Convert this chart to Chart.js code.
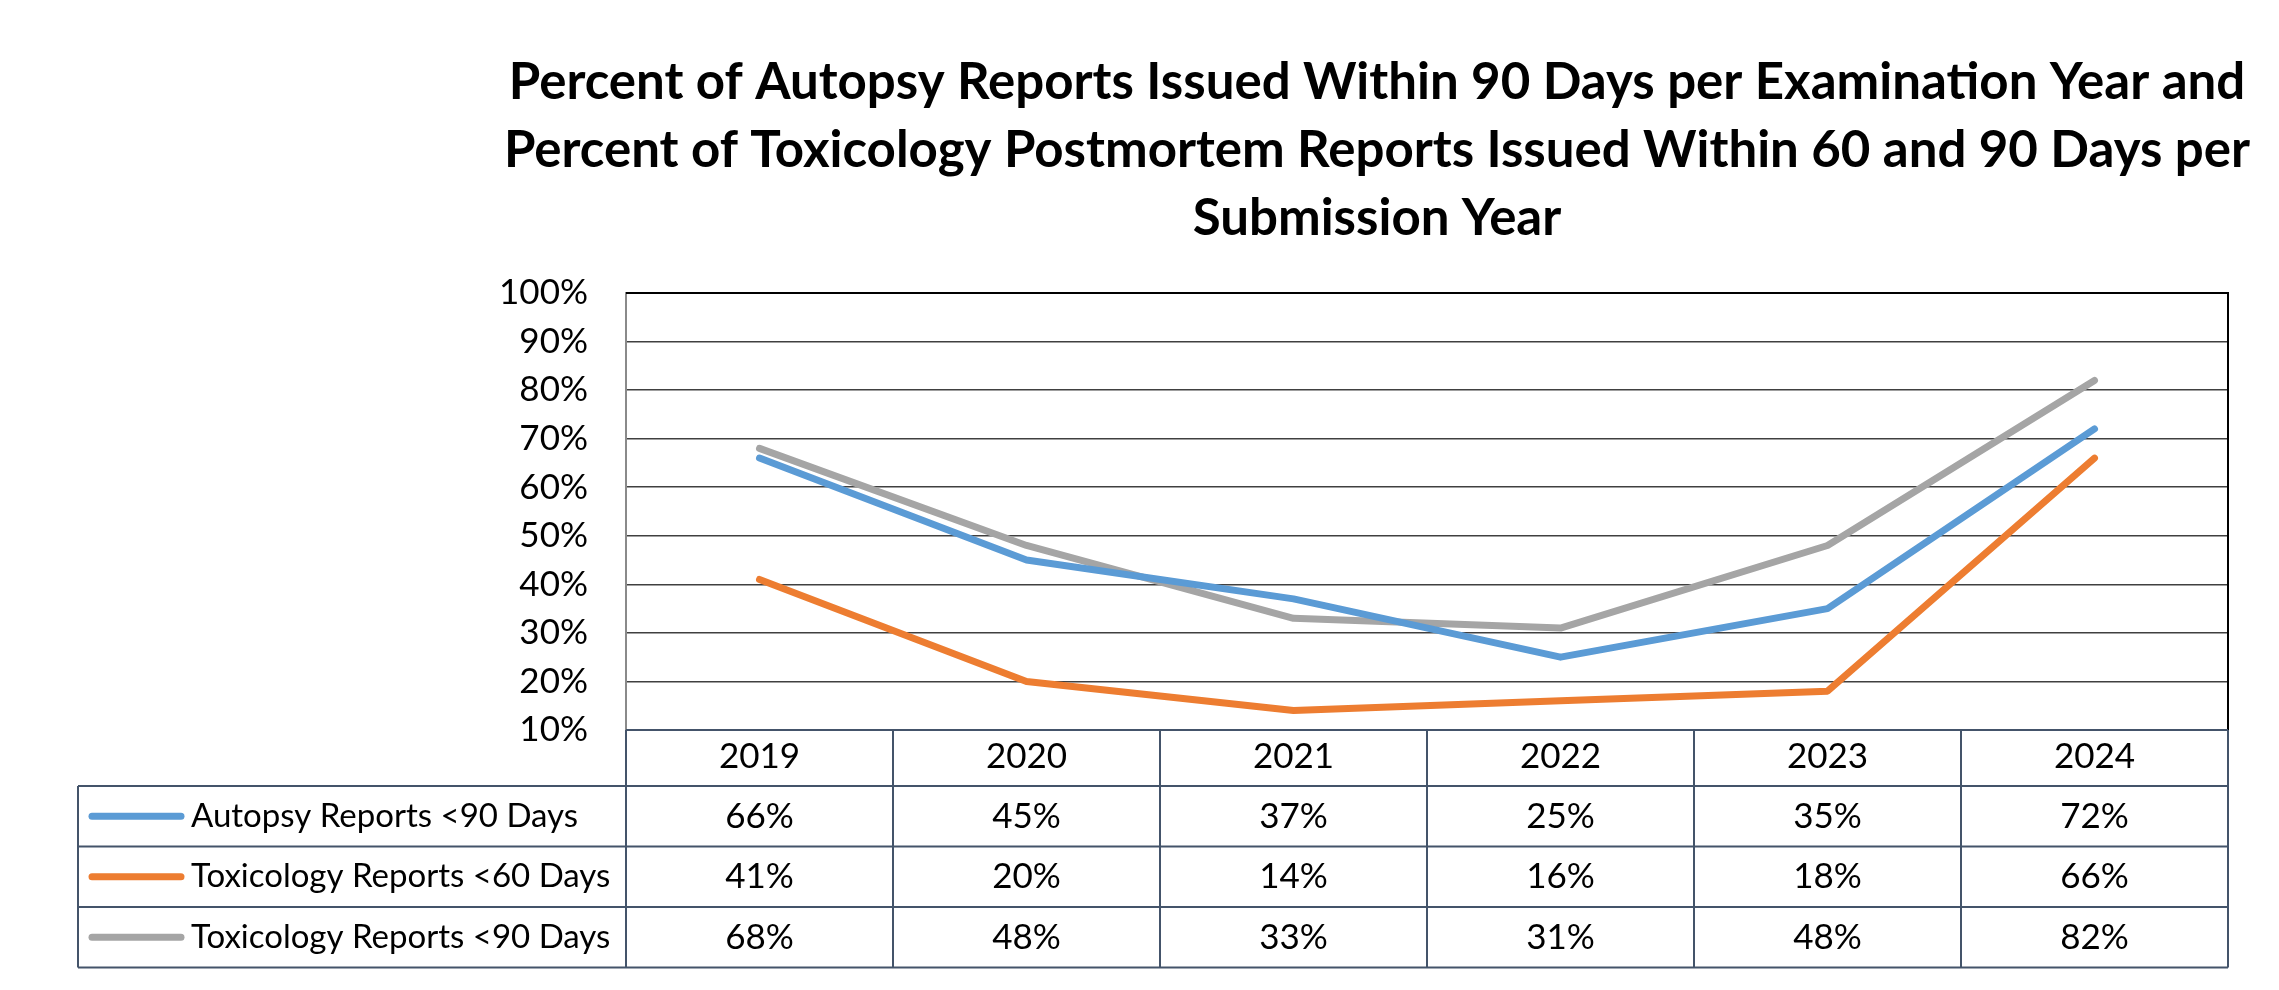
<!DOCTYPE html>
<html lang="en">
<head>
<meta charset="UTF-8">
<title>Autopsy and Toxicology Reports</title>
<script src="https://cdn.jsdelivr.net/npm/chart.js"></script>
<style>
    html, body { margin: 0; padding: 0; background: #ffffff; }
    #chart { display: block; }
</style>
</head>
<body>
<canvas id="chart" width="2279" height="990"></canvas>
<script>
var years = ['2019', '2020', '2021', '2022', '2023', '2024'];
var autopsy90 = [66, 45, 37, 25, 35, 72];
var tox60 = [41, 20, 14, 16, 18, 66];
var tox90 = [68, 48, 33, 31, 48, 82];
var seriesNames = ['Autopsy Reports <90 Days', 'Toxicology Reports <60 Days', 'Toxicology Reports <90 Days'];
var seriesColors = ['#5B9BD5', '#ED7D31', '#A5A5A5'];
var yMin = 10, yMax = 100, yStep = 10;
var titleLines = [
    'Percent of Autopsy Reports Issued Within 90 Days per Examination Year and',
    'Percent of Toxicology Postmortem Reports Issued Within 60 and 90 Days per',
    'Submission Year'
];

var FONT = 'Lato';
var tableLine = '#44546A';

// title is drawn here because it is not centred on the canvas or the plot
var titlePlugin = {
    id: 'offsetTitle',
    afterDraw: function(chart) {
        var ctx = chart.ctx;
        ctx.save();
        ctx.fillStyle = '#000000';
        ctx.font = 'bold 51px ' + FONT;
        ctx.textAlign = 'center';
        ctx.textBaseline = 'alphabetic';
        titleLines.forEach(function(line, i) {
            ctx.fillText(line, 1377, 99 + i * 68);
        });
        ctx.restore();
    }
};

// draws plot frame + data table under the x axis
var dataTable = {
    id: 'dataTable',
    afterDraw: function(chart) {
        var ctx = chart.ctx;
        var x = chart.scales.x;
        var area = chart.chartArea;
        var n = years.length;
        var colW = x.getPixelForValue(1) - x.getPixelForValue(0);
        var edges = [];
        for (var i = 0; i <= n; i++) {
            edges.push(x.getPixelForValue(0) - colW / 2 + i * colW);
        }
        var tableLeft = 78;
        var rowH = 60.5;
        var headBottom = x.bottom;
        var rows = chart.data.datasets.length;
        var tableBottom = headBottom + rows * rowH;

        ctx.save();
        // plot frame top and right
        ctx.strokeStyle = '#000000';
        ctx.lineWidth = 2;
        ctx.beginPath();
        ctx.moveTo(area.left, area.top);
        ctx.lineTo(area.right, area.top);
        ctx.lineTo(area.right, area.bottom);
        ctx.stroke();

        ctx.strokeStyle = tableLine;
        ctx.lineWidth = 2;
        ctx.beginPath();
        ctx.moveTo(edges[0], area.bottom);
        ctx.lineTo(edges[n], area.bottom);
        for (var r = 0; r <= rows; r++) {
            var yy = headBottom + r * rowH;
            ctx.moveTo(tableLeft, yy);
            ctx.lineTo(edges[n], yy);
        }
        for (var c = 0; c <= n; c++) {
            ctx.moveTo(edges[c], area.bottom);
            ctx.lineTo(edges[c], tableBottom);
        }
        ctx.moveTo(tableLeft, headBottom);
        ctx.lineTo(tableLeft, tableBottom);
        ctx.stroke();

        // rows: legend key, name, values
        ctx.textBaseline = 'middle';
        ctx.fillStyle = '#000000';
        chart.data.datasets.forEach(function(ds, r) {
            var cy = headBottom + r * rowH + rowH / 2;
            ctx.strokeStyle = ds.borderColor;
            ctx.lineWidth = 7;
            ctx.lineCap = 'round';
            ctx.beginPath();
            ctx.moveTo(92, cy);
            ctx.lineTo(181, cy);
            ctx.stroke();
            ctx.font = '33px ' + FONT;
            ctx.textAlign = 'left';
            ctx.fillText(ds.label, 191, cy);
            ctx.font = '35px ' + FONT;
            ctx.textAlign = 'center';
            ds.data.forEach(function(v, i) {
                ctx.fillText(v + '%', x.getPixelForValue(i), cy);
            });
        });
        ctx.restore();
    }
};

var seriesData = [autopsy90, tox60, tox90];
var datasets = seriesData.map(function(d, i) {
    return {
        label: seriesNames[i],
        data: d,
        borderColor: seriesColors[i],
        backgroundColor: seriesColors[i],
        borderWidth: 7,
        borderCapStyle: 'round',
        borderJoinStyle: 'round',
        pointRadius: 0,
        tension: 0,
        fill: false
    };
});

new Chart(document.getElementById('chart').getContext('2d'), {
    type: 'line',
    data: { labels: years, datasets: datasets },
    plugins: [dataTable, titlePlugin],
    options: {
        responsive: false,
        animation: false,
        devicePixelRatio: 1,
        layout: { padding: { left: 426, right: 51, top: 293, bottom: 204 } },
        plugins: {
            legend: { display: false },
            tooltip: { enabled: false },
            title: { display: false }
        },
        scales: {
            x: {
                offset: true,
                grid: { display: false, drawTicks: false },
                border: { display: true, color: tableLine, width: 2 },
                ticks: { color: '#000000', font: { family: FONT, size: 35 }, padding: 6, maxRotation: 0 },
                afterFit: function(s) { s.height = 56; }
            },
            y: {
                min: yMin,
                max: yMax,
                grid: { color: '#404040', lineWidth: 1.5, drawTicks: false },
                border: { display: true, color: '#8a8a8a', width: 2 },
                ticks: {
                    stepSize: yStep,
                    color: '#000000',
                    font: { family: FONT, size: 35 },
                    padding: 38,
                    callback: function(v) { return v + '%'; }
                },
                afterFit: function(s) { s.width = 200; }
            }
        }
    }
});
</script>
</body>
</html>
